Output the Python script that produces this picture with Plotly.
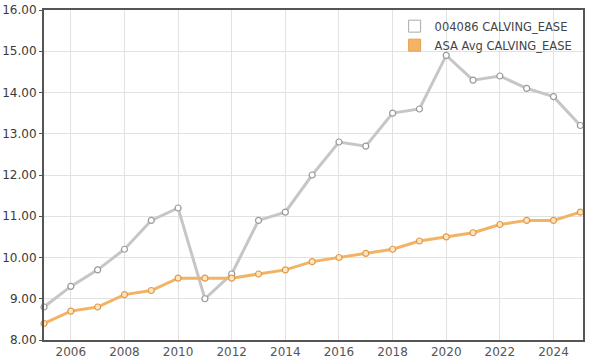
import plotly.graph_objects as go

years = list(range(2005, 2026))
animal_vals = [8.8, 9.3, 9.7, 10.2, 10.9, 11.2, 9.0, 9.6, 10.9, 11.1, 12.0,
               12.8, 12.7, 13.5, 13.6, 14.9, 14.3, 14.4, 14.1, 13.9, 13.2]
avg_vals = [8.4, 8.7, 8.8, 9.1, 9.2, 9.5, 9.5, 9.5, 9.6, 9.7, 9.9,
            10.0, 10.1, 10.2, 10.4, 10.5, 10.6, 10.8, 10.9, 10.9, 11.1]
series_names = ["004086 CALVING_EASE", "ASA Avg CALVING_EASE"]

gray = "#c6c6c6"
orange = "#f2b464"

fig = go.Figure()
fig.add_trace(go.Scatter(
    x=years, y=animal_vals, mode="lines+markers", showlegend=False, cliponaxis=False,
    line=dict(color=gray, width=3),
    marker=dict(size=6, color="white", line=dict(color="#999999", width=1.2)),
))
fig.add_trace(go.Scatter(
    x=years, y=avg_vals, mode="lines+markers", showlegend=False, cliponaxis=False,
    line=dict(color=orange, width=3),
    marker=dict(size=6, color="#fde6c4", line=dict(color="#e39a45", width=1.2)),
))
# legend entries (box symbols)
fig.add_trace(go.Bar(x=[None], y=[None], name=series_names[0],
                     marker=dict(color="white", line=dict(color="#aaaaaa", width=1))))
fig.add_trace(go.Bar(x=[None], y=[None], name=series_names[1],
                     marker=dict(color=orange, line=dict(color="#e8a04c", width=1))))

fig.update_layout(
    width=591, height=359,
    margin=dict(l=44, r=8, t=10, b=19),
    paper_bgcolor="white", plot_bgcolor="white",
    font=dict(family="DejaVu Sans", size=12, color="#444444"),
    showlegend=True,
    legend=dict(x=0.99, y=0.995, xanchor="right", yanchor="top",
                bgcolor="rgba(255,255,255,0)", font=dict(size=11.5, color="#444444"),
                itemwidth=30, traceorder="normal"),
    xaxis=dict(range=[2005, 2025.1], tick0=2006, dtick=2, showgrid=True,
               gridcolor="#e2e2e2", gridwidth=1, showline=True, linecolor="#555555",
               linewidth=2, mirror=True, zeroline=False, ticks="", automargin=False,
               tickfont=dict(color="#555555")),
    yaxis=dict(range=[8, 16], dtick=1, tickformat=".2f", showgrid=True,
               gridcolor="#e2e2e2", gridwidth=1, showline=True, linecolor="#555555",
               linewidth=2, mirror=True, zeroline=False, ticks="outside",
               ticklen=3, tickcolor="#555555", automargin=False,
               tickfont=dict(color="#3a3a3a")),
)

fig.write_html("out.html", config={"displayModeBar": False},
               post_script="document.body.style.margin='0';document.body.style.padding='0';")
